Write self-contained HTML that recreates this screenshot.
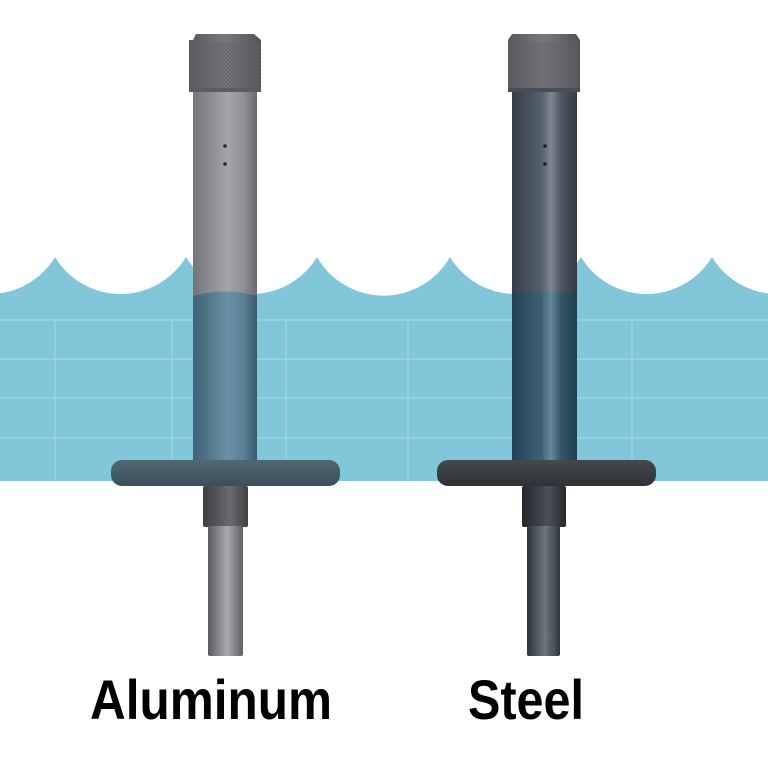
<!DOCTYPE html>
<html><head><style>html,body{margin:0;padding:0;background:#fff}svg{display:block}</style></head>
<body>
<svg width="768" height="768" viewBox="0 0 768 768" xmlns="http://www.w3.org/2000/svg">
<defs>
<linearGradient id="alT" x1="0" x2="1"><stop offset="0" stop-color="#747579"/><stop offset="0.55" stop-color="#a4a5a9"/><stop offset="0.8" stop-color="#8e8f93"/><stop offset="1" stop-color="#68696d"/></linearGradient>
<linearGradient id="alW" x1="0" x2="1"><stop offset="0" stop-color="#3f6275"/><stop offset="0.55" stop-color="#6a91a4"/><stop offset="0.8" stop-color="#587f93"/><stop offset="1" stop-color="#395a6b"/></linearGradient>
<linearGradient id="stT" x1="0" x2="1"><stop offset="0" stop-color="#363e47"/><stop offset="0.45" stop-color="#56606a"/><stop offset="0.6" stop-color="#7f8890"/><stop offset="0.75" stop-color="#4f5963"/><stop offset="1" stop-color="#343b43"/></linearGradient>
<linearGradient id="stW" x1="0" x2="1"><stop offset="0" stop-color="#224254"/><stop offset="0.45" stop-color="#3d6275"/><stop offset="0.6" stop-color="#66899a"/><stop offset="0.75" stop-color="#355768"/><stop offset="1" stop-color="#213e4f"/></linearGradient>
<linearGradient id="cap" x1="0" x2="1"><stop offset="0" stop-color="#56585c"/><stop offset="0.5" stop-color="#77797d"/><stop offset="1" stop-color="#505256"/></linearGradient>
<linearGradient id="pinA" x1="0" x2="1"><stop offset="0" stop-color="#5a5b5e"/><stop offset="0.55" stop-color="#a8a9ac"/><stop offset="1" stop-color="#5f6063"/></linearGradient>
<linearGradient id="pinS" x1="0" x2="1"><stop offset="0" stop-color="#2e353b"/><stop offset="0.55" stop-color="#6e767d"/><stop offset="1" stop-color="#30363b"/></linearGradient>
<linearGradient id="colA" x1="0" x2="1"><stop offset="0" stop-color="#3e3f42"/><stop offset="0.6" stop-color="#6a6b6e"/><stop offset="1" stop-color="#3f4043"/></linearGradient>
<linearGradient id="colS" x1="0" x2="1"><stop offset="0" stop-color="#23272b"/><stop offset="0.6" stop-color="#4a5055"/><stop offset="1" stop-color="#24282c"/></linearGradient>
<linearGradient id="diskA" x1="0" y1="0" x2="0" y2="1"><stop offset="0" stop-color="#4f6873"/><stop offset="1" stop-color="#3a4f59"/></linearGradient>
<linearGradient id="diskS" x1="0" y1="0" x2="0" y2="1"><stop offset="0" stop-color="#44494e"/><stop offset="1" stop-color="#2e3236"/></linearGradient>
<pattern id="knurl" width="4" height="4" patternUnits="userSpaceOnUse"><path d="M0 4L4 0M0 0L4 4" stroke="#5f6165" stroke-width="0.6"/></pattern>
</defs>
<rect width="768" height="768" fill="#fff"/>
<path d="M-76 257 A76.5 76.5 0 0 0 55 257 A76.5 76.5 0 0 0 186 257 A76.5 76.5 0 0 0 317 257 A76.5 76.5 0 0 0 450 257 A76.5 76.5 0 0 0 581 257 A76.5 76.5 0 0 0 712 257 A76.5 76.5 0 0 0 843 257 L843 481 L-76 481 Z" fill="#82c6d9"/>
<g stroke="#a4d8e6" stroke-width="1.2">
<line x1="0" y1="320" x2="768" y2="320"/><line x1="0" y1="359" x2="768" y2="359"/><line x1="0" y1="398" x2="768" y2="398"/><line x1="0" y1="438" x2="768" y2="438"/>
<line x1="55" y1="320" x2="55" y2="481"/><line x1="172" y1="320" x2="172" y2="481"/><line x1="286" y1="320" x2="286" y2="481"/><line x1="408" y1="320" x2="408" y2="481"/><line x1="520" y1="320" x2="520" y2="481"/><line x1="632" y1="320" x2="632" y2="481"/>
</g>
<rect x="193" y="90" width="64" height="372" fill="url(#alT)"/>
<path d="M193 296 Q225 287 257 296 L257 462 L193 462 Z" fill="url(#alW)"/>
<path d="M193 40 L196 34 L254 34 L261 40 L261 90 L189 90 L189 40 Z" fill="url(#cap)"/>
<rect x="189" y="42" width="72" height="46" fill="url(#knurl)"/>
<rect x="189" y="88" width="72" height="4" fill="#5a5c60"/>
<circle cx="225" cy="146" r="1.8" fill="#2a2a2c"/><circle cx="225" cy="164" r="1.8" fill="#2a2a2c"/>
<rect x="111" y="460" width="229" height="26" rx="11" fill="url(#diskA)"/>
<rect x="203" y="486" width="45" height="41" rx="2" fill="url(#colA)"/>
<rect x="208" y="526" width="35" height="130" rx="2" fill="url(#pinA)"/>
<rect x="512" y="90" width="65" height="372" fill="url(#stT)"/>
<path d="M512 294 Q545 287 577 294 L577 462 L512 462 Z" fill="url(#stW)"/>
<path d="M512 34 L576 34 L580 40 L580 90 L508 90 L508 40 Z" fill="url(#cap)"/>
<rect x="508" y="42" width="72" height="46" fill="url(#knurl)"/>
<rect x="508" y="88" width="72" height="4" fill="#4a4d52"/>
<circle cx="545" cy="146" r="1.8" fill="#1c1d1f"/><circle cx="545" cy="164" r="1.8" fill="#1c1d1f"/>
<rect x="437" y="460" width="219" height="26" rx="11" fill="url(#diskS)"/>
<rect x="522" y="486" width="44" height="41" rx="2" fill="url(#colS)"/>
<rect x="527" y="526" width="33" height="130" rx="2" fill="url(#pinS)"/>
<text x="90" y="719" font-family="Liberation Sans, sans-serif" font-weight="bold" font-size="56" textLength="242" lengthAdjust="spacingAndGlyphs" fill="#000">Aluminum</text>
<text x="468" y="719" font-family="Liberation Sans, sans-serif" font-weight="bold" font-size="56" textLength="116" lengthAdjust="spacingAndGlyphs" fill="#000">Steel</text>
</svg>
</body></html>
